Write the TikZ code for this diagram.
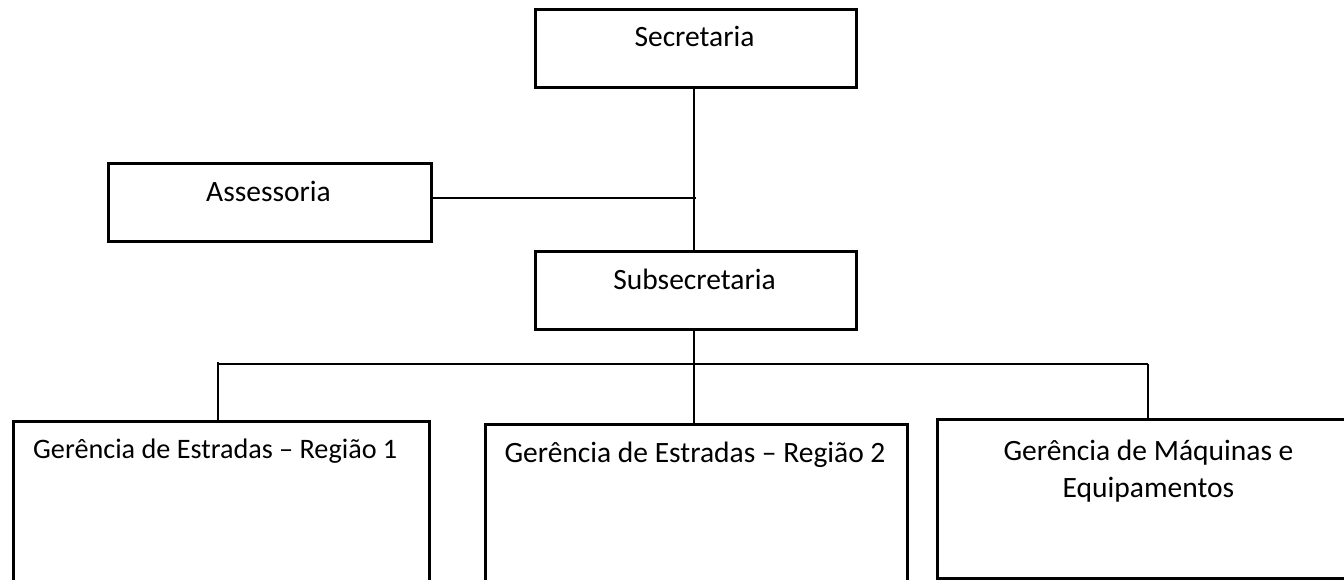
\documentclass[tikz,border=0pt]{standalone}
\usepackage{fontspec}
\setmainfont{Carlito}
\begin{document}
\begin{tikzpicture}[x=1pt,y=-1pt,
  box/.style={draw=black,line width=3pt,inner sep=0pt,anchor=north west},
  txt/.style={anchor=base,inner sep=0pt,font=\fontsize{29.5}{36}\selectfont},
  conn/.style={draw=black,line width=1.7pt}]
\useasboundingbox (0,0) rectangle (1344,580);
\clip (0,0) rectangle (1344,580);
% boxes
\node[box,minimum width=321pt,minimum height=78pt] (sec) at (534,8) {};
\node[box,minimum width=323pt,minimum height=78pt] (ass) at (107,162) {};
\node[box,minimum width=321pt,minimum height=78pt] (sub) at (534,250) {};
\node[box,minimum width=416pt,minimum height=200pt] (g1) at (12,420) {};
\node[box,minimum width=422pt,minimum height=200pt] (g2) at (484,423) {};
\node[box,minimum width=424pt,minimum height=159pt] (g3) at (936,418) {};
% texts
\node[txt] (tsec) at (694.5,47) {Secretaria};
\node[txt] (tass) at (268.5,202) {Assessoria};
\node[txt] (tsub) at (694.5,289) {Subsecretaria};
\node[txt,anchor=base west,font=\fontsize{28.2}{34}\selectfont] (tg1) at (33,458) {Gerência de Estradas – Região 1};
\node[txt] (tg2) at (695,462) {Gerência de Estradas – Região 2};
\node[txt] (tg3a) at (1148.5,460) {Gerência de Máquinas e};
\node[txt] (tg3b) at (1148.5,497) {Equipamentos};
% connector coordinates
\coordinate (j1) at (696,198);
\coordinate (bar) at (694,364);
\coordinate (barL) at (218,364);
\coordinate (barLt) at (218,362);
\coordinate (barR) at (1148,364);
% connectors
\draw[conn] (sec.south -| bar) -- (sub.north -| bar);
\draw[conn] (ass.east |- j1) -- (j1);
\draw[conn] (sub.south -| bar) -- (bar);
\draw[conn] (barL) -- (barR);
\draw[conn] (barLt) -- (g1.north -| barL);
\draw[conn] (bar) -- (g2.north -| bar);
\draw[conn] (barR) -- (g3.north -| barR);
\end{tikzpicture}
\end{document}
